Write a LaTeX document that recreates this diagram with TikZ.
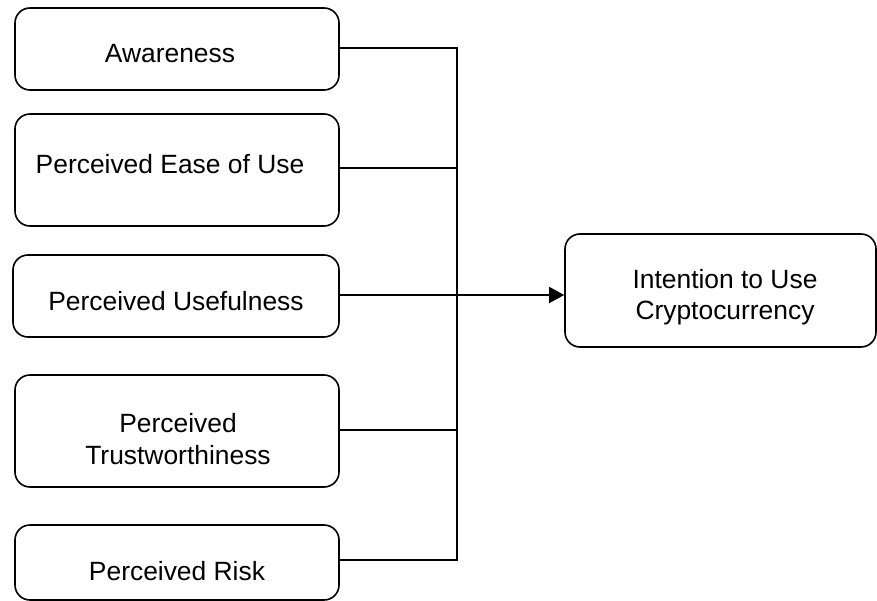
\documentclass[tikz,border=0pt]{standalone}
\usepackage{fontspec}
\setmainfont{Liberation Sans}
\usetikzlibrary{arrows.meta}
\begin{document}
\begin{tikzpicture}[x=1pt,y=-1pt,
  box/.style={draw,line width=1.6pt,rounded corners=15pt,inner sep=0pt,minimum width=324pt},
  lbl/.style={font=\fontsize{26.4}{31.5}\selectfont,align=center,inner sep=0pt},
  conn/.style={line width=1.5pt}]
\useasboundingbox (0,0) rectangle (877,601);
% boxes
\node[box,minimum height=82pt] (aw) at (177,49) {};
\node[box,minimum height=112pt] (ease) at (177,170) {};
\node[box,minimum width=326pt,minimum height=82pt] (use) at (176,296) {};
\node[box,minimum height=112pt] (trust) at (177,431) {};
\node[box,minimum height=75pt] (risk) at (177,562.5) {};
\node[box,minimum width=311pt,minimum height=113pt] (intent) at (720.5,290.5) {};
% labels
\node[lbl] (awt) at (170,54) {Awareness};
\node[lbl] (easet) at (170,164) {Perceived Ease of Use};
\node[lbl] (uset) at (176,301) {Perceived Usefulness};
\node[lbl] (trustt) at (178,439) {Perceived\\Trustworthiness};
\node[lbl] (riskt) at (177,571) {Perceived Risk};
\node[lbl] (intentt) at (725,297) {Intention to Use\\Cryptocurrency};
% bus coordinates
\coordinate (b1) at (457,48);
\coordinate (b2) at (457,168);
\coordinate (b3) at (457,295);
\coordinate (b4) at (457,430);
\coordinate (b5) at (457,560);
% connectors
\draw[conn] (aw.east |- b1) -- (b1) -- (b5) -- (risk.east |- b5);
\draw[conn] (ease.east |- b2) -- (b2);
\draw[conn] (trust.east |- b4) -- (b4);
\draw[conn,-{Triangle[length=15pt,width=16pt]}] (use.east |- b3) -- (intent.west |- b3);
\end{tikzpicture}
\end{document}
